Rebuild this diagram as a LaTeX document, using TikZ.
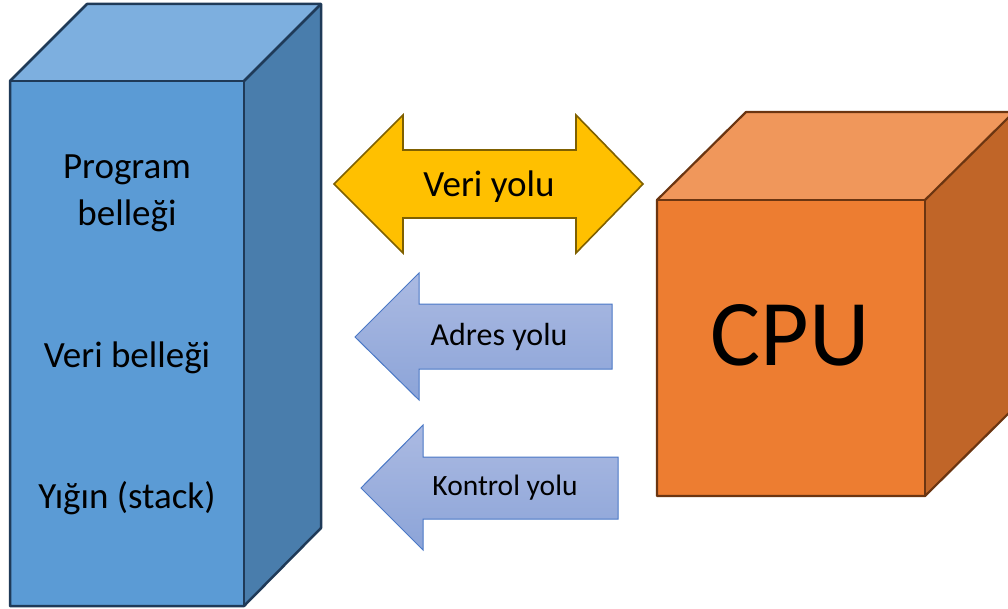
\documentclass[tikz,border=0pt]{standalone}
\usepackage{fontspec}
\setmainfont{Carlito}
\definecolor{memfront}{HTML}{5B9BD5}
\definecolor{memtop}{HTML}{7DAFDF}
\definecolor{memside}{HTML}{497DAC}
\definecolor{memline}{HTML}{1F3A58}
\definecolor{cpufront}{HTML}{ED7D31}
\definecolor{cputop}{HTML}{F0975B}
\definecolor{cpuside}{HTML}{C06528}
\definecolor{cpuline}{HTML}{6B3511}
\definecolor{busyellow}{HTML}{FFC000}
\definecolor{busyline}{HTML}{7F6000}
\definecolor{arrtop}{HTML}{ABBAE2}
\definecolor{arrbot}{HTML}{8CA4D8}
\definecolor{arrline}{HTML}{4A78C6}
\tikzset{
  memface/.style={draw=memline, line width=2.5pt, line join=round},
  cpuface/.style={draw=cpuline, line width=2.2pt, line join=round},
  yellowbus/.style={draw=busyline, fill=busyellow, line width=1.6pt, line join=miter},
  bluebus/.style={draw=arrline, top color=arrtop, bottom color=arrbot, line width=1pt, line join=miter},
  label/.style={inner sep=0pt, anchor=base, text=black}
}
\begin{document}
\begin{tikzpicture}[x=1pt,y=-1pt]
\useasboundingbox (0,0) rectangle (1008,609);
% memory block
\coordinate (mA) at (10,81);
\coordinate (mB) at (244,81);
\coordinate (mC) at (244,606);
\coordinate (mD) at (10,606);
\fill[memtop] (mA) -- ++(77,-77) -- ++(234,0) -- (mB) -- cycle;
\fill[memside] (mB) -- ++(77,-77) -- ++(0,524) -- (mC) -- cycle;
\fill[memfront] (mA) rectangle (mC);
\draw[memface] (mA) -- ++(77,-77) -- ++(234,0) -- ++(0,524) -- (mC) -- (mD) -- cycle;
\draw[memface] (mA) -- (mB) -- (mC);
\draw[memface] (mB) -- ++(77,-77);
% cpu block
\begin{scope}
\clip (0,0) rectangle (1008,609);
\coordinate (cA) at (657,200);
\coordinate (cB) at (925,200);
\coordinate (cC) at (925,496);
\coordinate (cD) at (657,496);
\fill[cputop] (cA) -- ++(89,-88) -- ++(268,0) -- (cB) -- cycle;
\fill[cpuside] (cB) -- ++(89,-88) -- ++(0,296) -- (cC) -- cycle;
\fill[cpufront] (cA) rectangle (cC);
\draw[cpuface] (cA) -- ++(89,-88) -- ++(268,0) -- ++(0,296) -- (cC) -- (cD) -- cycle;
\draw[cpuface] (cA) -- (cB) -- (cC);
\draw[cpuface] (cB) -- ++(89,-88);
\end{scope}
% veri yolu double arrow
\path[yellowbus] (334,184) -- (403,115) -- (403,150) -- (576,150) -- (576,115) -- (643,184)
  -- (576,253) -- (576,218) -- (403,218) -- (403,253) -- cycle;
% adres yolu
\path[bluebus] (355,337) -- (419,273) -- (419,304) -- (612,304) -- (612,369) -- (419,369) -- (419,400) -- cycle;
% kontrol yolu
\path[bluebus] (361,488) -- (423,425) -- (423,457) -- (618,457) -- (618,519) -- (423,519) -- (423,550) -- cycle;
% texts
\node[label, font=\fontsize{37}{44}\selectfont] (prog1) at (127,179) {Program};
\node[label, font=\fontsize{37}{44}\selectfont] (prog2) at (127,226) {belleği};
\node[label, font=\fontsize{37}{44}\selectfont] (veribel) at (127,367) {Veri belleği};
\node[label, font=\fontsize{37}{44}\selectfont] (yigin) at (127,508) {Yığın (stack)};
\node[label, font=\fontsize{37}{44}\selectfont] (veriyolu) at (489,197) {Veri yolu};
\node[label, font=\fontsize{32}{38}\selectfont] (adres) at (499,345) {Adres yolu};
\node[label, font=\fontsize{29.5}{35}\selectfont] (kontrol) at (505,495) {Kontrol yolu};
\node[label, font=\fontsize{94}{112}\selectfont] (cpu) at (790,365) {CPU};
\end{tikzpicture}
\end{document}
